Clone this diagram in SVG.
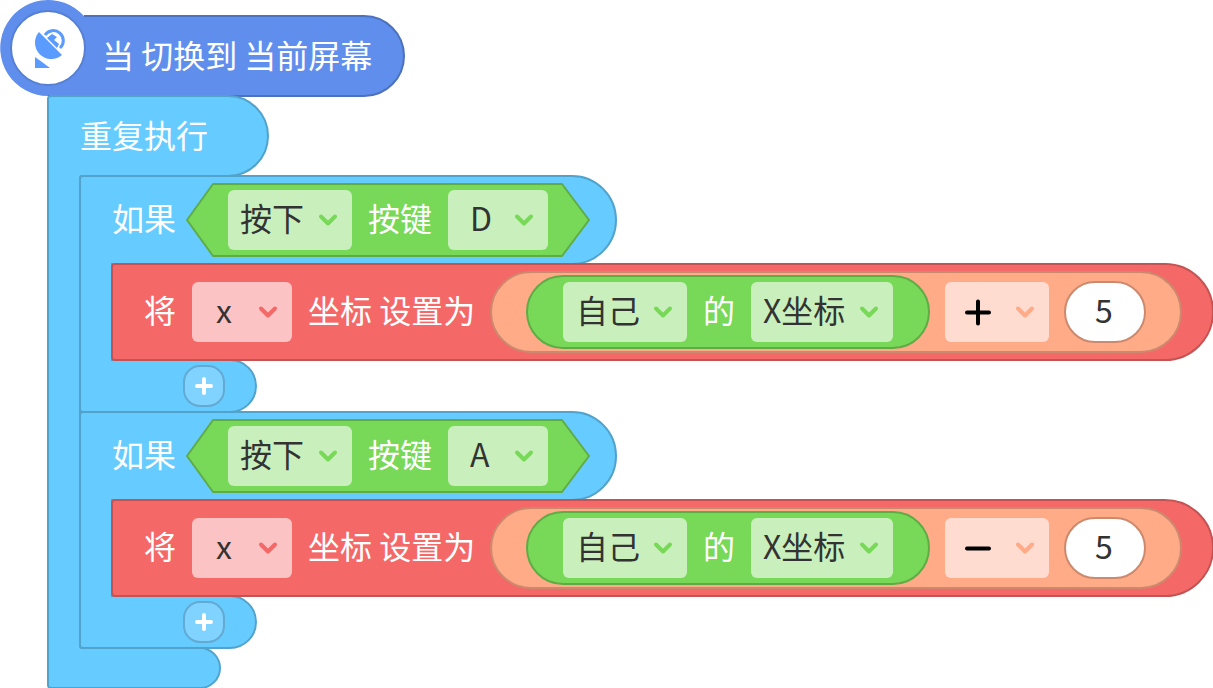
<svg xmlns="http://www.w3.org/2000/svg" width="1213" height="688" viewBox="0 0 1213 688">
<defs>
<style>
text{font-family:"Noto Sans CJK SC","Noto Sans",sans-serif;font-size:32px}
.w{fill:#fff}.d{fill:#333}
.blue{fill:#66ccff;stroke:#52a3cc;stroke-width:2}
.red{fill:#f56868;stroke:#c45353;stroke-width:2}
.org{fill:#ffab88;stroke:#cc896d;stroke-width:2}
.grn{fill:#78d858;stroke:#5fac46;stroke-width:2}
.lg{fill:#c9f0bc}.lr{fill:#fbc3c3}.lo{fill:#ffdccf}
.chev{fill:none;stroke-width:4;stroke-linecap:round;stroke-linejoin:round}
</style>
<path id="c" d="M-7-3.500L0 3.500L7-3.500" class="chev"/>
</defs>
<g id="connectors"></g>
<g id="hat">
<path d="M84 16H364A40 40 0 0 1 364 96H48A48 48 0 1 1 84 16Z" fill="#5f8eec"/>
<path d="M84 16H364A40 40 0 0 1 364 96H48" fill="none" stroke="#4c71bd" stroke-width="2"/>
<circle cx="48" cy="48" r="37" fill="#fff" stroke="#5580d4" stroke-width="2"/>
<path d="M39 32L62 55A16.300 16.300 0 0 1 39 32Z" fill="#5a9bff"/>
<path d="M35 57V68H50L42 62Z" fill="#5a9bff"/>
<path d="M45 35A10 10 0 1 1 60 48" fill="none" stroke="#5a9bff" stroke-width="3"/>
<path d="M47 38L52 34L57 37L54 40L59 44L57 48Z" fill="#5a9bff"/>
<text x="102" y="68" class="w">当 切换到 当前屏幕</text>
</g>
<g id="repeat">
<path d="M51 96H228A40 40 0 0 1 228 176H82Q80 176 80 178V646Q80 648 82 648H200A20 20 0 0 1 200 688H51Q48 688 48 685V99Q48 96 51 96Z" class="blue"/>
<text x="80" y="148" class="w">重复执行</text>
</g>
<g id="if1">
<path d="M83 176H572A44 44 0 0 1 572 264H112V360H230A26 26 0 0 1 230 412H83Q80 412 80 409V179Q80 176 83 176Z" class="blue"/>
<text x="112" y="231" class="w">如果</text>
<path d="M213 184H562L589 220L562 256H213L187 220Z" class="grn" stroke-linejoin="round"/>
<rect x="228" y="190" width="124" height="60" rx="6" class="lg"/>
<text x="240" y="231" class="d">按下</text>
<use href="#c" x="328" y="220" stroke="#78d858"/>
<text x="368" y="231" class="w">按键</text>
<rect x="448" y="190" width="100" height="60" rx="6" class="lg"/>
<text x="470" y="231" class="d">D</text>
<use href="#c" x="524" y="220" stroke="#78d858"/>
</g>
<g id="set1">
<path d="M115 264H1165A48 48 0 0 1 1165 360H115Q112 360 112 357V267Q112 264 115 264Z" class="red"/>
<text x="144" y="323" class="w">将</text>
<rect x="192" y="282" width="100" height="60" rx="6" class="lr"/>
<text x="216" y="323" class="d">x</text>
<use href="#c" x="268" y="312" stroke="#f56868"/>
<text x="308" y="323" class="w">坐标 设置为</text>
<rect x="491" y="272" width="690" height="80" rx="40" class="org"/>
<rect x="527" y="276" width="402" height="72" rx="36" class="grn"/>
<rect x="563" y="282" width="124" height="60" rx="6" class="lg"/>
<text x="576" y="323" class="d">自己</text>
<use href="#c" x="663" y="312" stroke="#78d858"/>
<text x="703" y="323" class="w">的</text>
<rect x="751" y="282" width="142" height="60" rx="6" class="lg"/>
<text x="763" y="323" class="d">X坐标</text>
<use href="#c" x="869" y="312" stroke="#78d858"/>
<rect x="945" y="282" width="104" height="60" rx="6" class="lo"/>
<path d="M967 312.500H989M978 301.500V323.500" stroke="#000" stroke-width="4" stroke-linecap="round"/>
<use href="#c" x="1025" y="312" stroke="#ffab88"/>
<rect x="1065" y="282" width="80" height="60" rx="30" fill="#fff" stroke="#cc896d" stroke-width="2"/>
<text x="1095" y="323" class="d">5</text>
</g>
<g id="add1">
<rect x="184" y="366" width="40" height="40" rx="16" fill="#80d2ff" stroke="#62aad3" stroke-width="2"/>
<path d="M197 386H211M204 379V393" stroke="#fff" stroke-width="4" stroke-linecap="round"/>
</g>
<g id="if2">
<path d="M83 412H572A44 44 0 0 1 572 500H112V596H230A26 26 0 0 1 230 648H83Q80 648 80 645V415Q80 412 83 412Z" class="blue"/>
<text x="112" y="467" class="w">如果</text>
<path d="M213 420H562L589 456L562 492H213L187 456Z" class="grn" stroke-linejoin="round"/>
<rect x="228" y="426" width="124" height="60" rx="6" class="lg"/>
<text x="240" y="467" class="d">按下</text>
<use href="#c" x="328" y="456" stroke="#78d858"/>
<text x="368" y="467" class="w">按键</text>
<rect x="448" y="426" width="100" height="60" rx="6" class="lg"/>
<text x="470" y="467" class="d">A</text>
<use href="#c" x="524" y="456" stroke="#78d858"/>
</g>
<g id="set2">
<path d="M115 500H1165A48 48 0 0 1 1165 596H115Q112 596 112 593V503Q112 500 115 500Z" class="red"/>
<text x="144" y="559" class="w">将</text>
<rect x="192" y="518" width="100" height="60" rx="6" class="lr"/>
<text x="216" y="559" class="d">x</text>
<use href="#c" x="268" y="548" stroke="#f56868"/>
<text x="308" y="559" class="w">坐标 设置为</text>
<rect x="491" y="508" width="690" height="80" rx="40" class="org"/>
<rect x="527" y="512" width="402" height="72" rx="36" class="grn"/>
<rect x="563" y="518" width="124" height="60" rx="6" class="lg"/>
<text x="576" y="559" class="d">自己</text>
<use href="#c" x="663" y="548" stroke="#78d858"/>
<text x="703" y="559" class="w">的</text>
<rect x="751" y="518" width="142" height="60" rx="6" class="lg"/>
<text x="763" y="559" class="d">X坐标</text>
<use href="#c" x="869" y="548" stroke="#78d858"/>
<rect x="945" y="518" width="104" height="60" rx="6" class="lo"/>
<path d="M967 548.500H989" stroke="#000" stroke-width="4" stroke-linecap="round"/>
<use href="#c" x="1025" y="548" stroke="#ffab88"/>
<rect x="1065" y="518" width="80" height="60" rx="30" fill="#fff" stroke="#cc896d" stroke-width="2"/>
<text x="1095" y="559" class="d">5</text>
</g>
<g id="add2">
<rect x="184" y="602" width="40" height="40" rx="16" fill="#80d2ff" stroke="#62aad3" stroke-width="2"/>
<path d="M197 622H211M204 615V629" stroke="#fff" stroke-width="4" stroke-linecap="round"/>
</g>
</svg>
